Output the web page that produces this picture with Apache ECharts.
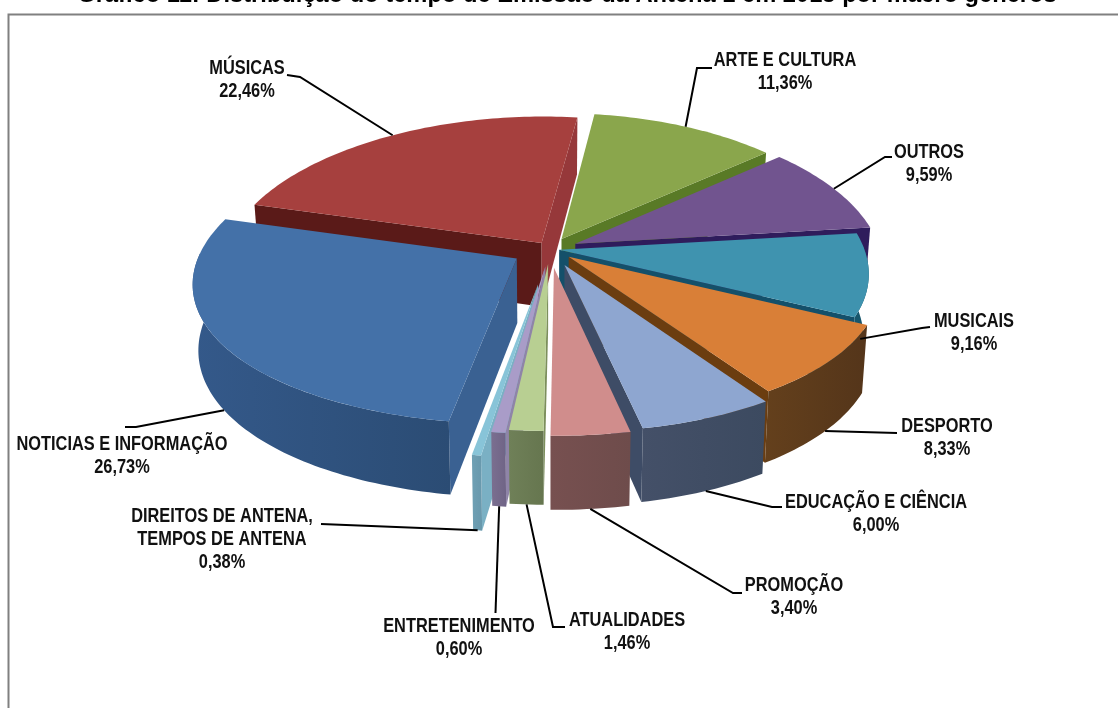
<!DOCTYPE html>
<html lang="pt">
<head>
<meta charset="utf-8">
<title>Distribuição do tempo de Emissão</title>
<script src="https://cdn.jsdelivr.net/npm/echarts@6/dist/echarts.min.js"></script>
<style>
  html, body { margin: 0; padding: 0; background: #fff; overflow: hidden; }
  #chart { width: 1118px; height: 708px; }
</style>
</head>
<body>
<div id="chart"></div>
<script>
// Macro-genre shares, clockwise from the top of the pie
const categories = ['ARTE E CULTURA', 'OUTROS', 'MUSICAIS', 'DESPORTO', 'EDUCAÇÃO E CIÊNCIA', 'PROMOÇÃO', 'ATUALIDADES', 'ENTRETENIMENTO', 'DIREITOS DE ANTENA,\nTEMPOS DE ANTENA', 'NOTICIAS E INFORMAÇÃO', 'MÚSICAS'];
const shares = [11.36, 9.59, 9.16, 8.33, 6.00, 3.40, 1.46, 0.60, 0.38, 26.73, 22.46];
const topColors = ['#8aa64c', '#71548f', '#3f93af', '#d97f37', '#8ea6d0', '#d08d8c', '#b8cf92', '#a99cc8', '#88c4d8', '#4471a8', '#a6403e'];
const rimColors = [['#5f7a2c', '#5f7a2c'], ['#3a2560', '#3a2560'], ['#17566c', '#17566c'], ['#64401c', '#54351a'], ['#445068', '#3c4a60'], ['#775050', '#6e4c4b'], ['#6f8058', '#66764f'], ['#7b6f90', '#6f6486'], ['#6fa0b4', '#6898ac'], ['#34598a', '#2b4c74'], ['#5a1a18', '#5a1a18']];
const wallStartColors = ['#597a26', '#2f1c5c', '#14506a', '#6b3d10', '#3e4c66', '#5e3a3a', '#7c8f5c', '#8f84a8', '#7ab0c4', '#3a6192', '#5a1a18'];
const wallEndColors = ['#597a26', '#2f1c5c', '#14506a', '#6b3d10', '#3e4c66', '#5e3a3a', '#7c8f5c', '#8f84a8', '#7ab0c4', '#3a6192', '#96383a'];
// How far each slice is pulled out of the pie, as a fraction of its radius
const explode = [0.08, 0.09, 0.03, 0.08, 0.12, 0.13, 0.104, 0.12, 0.244, 0.125, 0.05];
// Painter's order: far slices first
const drawOrder = [10, 0, 1, 2, 3, 4, 9, 8, 7, 5, 6];
// Label block centres
const labelPos = [[785, 72], [929, 164], [974, 333], [947, 438], [876, 514], [794, 597], [627, 632], [459, 638], [222, 540], [122, 456], [247, 80]];
// Leader route from the slice out to its label
const leaderRoute = [
  [[697, 68], [712, 68]],
  [[885, 157], [892, 157]],
  [[922, 328], [930, 327]],
  [[897, 433]],
  [[772, 507], [782, 507]],
  [[733, 593], [742, 593]],
  [[553, 627], [565, 627]],
  [[495.5, 613]],
  [[321, 524]],
  [[136, 427], [125, 427]],
  [[300, 77], [287, 75]]
];
// Where on the slice's rim the leader starts: fraction of the sweep, fraction of the wall height
const leaderStart = [[0.5, 0], [0.5, 0], [0.82, 0.55], [0.5, 1], [0.5, 1], [0.5, 1], [0.5, 1], [0.5, 1], [0.5, 1], [0.5, 1], [0.5, 0]];

const START_DEG = 7.5, A = 310, SKEW = 0.015, B = 143, KY = 0.12, KX = 0.16, CX = 550, CY = 249, DEPTH = 64, CONVERGE = 0.016;
const RIM_FROM = 88 * Math.PI / 180, RIM_TO = 272 * Math.PI / 180;
const total = shares.reduce((s, v) => s + v, 0);

// Tilted pie plane -> screen: t in radians clockwise from the back, r in radius units
function project(t, r, e, tm, z) {
  const u = r * Math.sin(t) + e * Math.sin(tm);
  const v = r * Math.cos(t) + e * Math.cos(tm);
  const wy = 1 + KY * v;
  const x = A * u * (1 - SKEW * u) / (1 + KX * v) * (1 - CONVERGE * z);
  const y = -B * v / wy + z * DEPTH / wy;
  return [CX + x, CY + y];
}
function arc(t0, t1, e, tm, z) {
  const pts = [];
  const n = Math.max(2, Math.ceil(Math.abs(t1 - t0) / 0.02));
  for (let i = 0; i <= n; i++) pts.push(project(t0 + (t1 - t0) * i / n, 1, e, tm, z));
  return pts;
}
const slices = [];
let acc = START_DEG * Math.PI / 180;
shares.forEach((v, i) => {
  const sweep = v / total * 2 * Math.PI;
  slices.push({ i, t0: acc, t1: acc + sweep, tm: acc + sweep / 2 });
  acc += sweep;
});

function poly(points, fill) {
  return { type: 'polygon', shape: { points }, style: { fill } };
}
// A radial wall shows when moving down from its top edge leaves the slice's top face
function wallVisible(apex, corner, inner) {
  const ax = corner[0] - apex[0], ay = corner[1] - apex[1];
  const crossDown = ax;
  const crossInner = ax * (inner[1] - apex[1]) - ay * (inner[0] - apex[0]);
  return crossDown * crossInner < 0;
}
function renderSlice(params) {
  const s = slices[drawOrder[params.dataIndex]];
  const i = s.i, e = explode[i];
  const topArc = arc(s.t0, s.t1, e, s.tm, 0);
  const apexTop = project(0, 0, e, s.tm, 0), apexLow = project(0, 0, e, s.tm, 1);
  const midTop = project(s.tm, 1, e, s.tm, 0);
  const children = [];
  [[s.t0, wallStartColors[i]], [s.t1, wallEndColors[i]]].forEach(([t, color]) => {
    const corner = project(t, 1, e, s.tm, 0);
    if (wallVisible(apexTop, corner, midTop)) {
      children.push(poly([apexTop, corner, project(t, 1, e, s.tm, 1), apexLow], color));
    }
  });
  // Only the part of the rim turned towards the viewer is drawn
  const from = Math.max(s.t0, RIM_FROM), to = Math.min(s.t1, RIM_TO);
  if (to > from) {
    const rimFill = new echarts.graphic.LinearGradient(0, 0, 1, 0, [
      { offset: 0, color: rimColors[i][0] }, { offset: 1, color: rimColors[i][1] }]);
    children.push(poly(arc(from, to, e, s.tm, 0).concat(arc(from, to, e, s.tm, 1).reverse()), rimFill));
  }
  children.push(poly([apexTop].concat(topArc), topColors[i]));
  return { type: 'group', children };
}
function renderLeader(params) {
  const i = params.dataIndex;
  const s = slices[i];
  const t = s.t0 + (s.t1 - s.t0) * leaderStart[i][0];
  const from = project(t, 1, explode[i], s.tm, leaderStart[i][1]);
  return {
    type: 'polyline',
    shape: { points: [from].concat(leaderRoute[i]) },
    style: { stroke: '#000', lineWidth: 2, fill: null }
  };
}
const labelText = (i) => categories[i] + '\n' + shares[i].toFixed(2).replace('.', ',') + '%';

const chart = echarts.init(document.getElementById('chart'), null, { renderer: 'canvas' });
chart.setOption({
  animation: false,
  backgroundColor: '#fff',
  graphic: [
    { type: 'rect', z: 1, silent: true, shape: { x: 8.5, y: 14.5, width: 1300, height: 900 }, style: { fill: 'none', stroke: '#808080', lineWidth: 2 } },
    { type: 'text', z: 10, silent: true, x: 567, y: -17,
      style: { text: 'Gráfico 11: Distribuição do tempo de Emissão da Antena 1 em 2015 por macro géneros',
        align: 'center', verticalAlign: 'top', fontFamily: '"Liberation Sans"', fontWeight: 'bold', fontSize: 23.7, fill: '#000' } }
  ].concat(categories.map((c, i) => ({
    type: 'text', x: labelPos[i][0], y: labelPos[i][1], z: 10, silent: true, scaleX: 0.84,
    style: {
      text: labelText(i), align: 'center', verticalAlign: 'middle',
      fontFamily: '"Liberation Sans"', fontWeight: 'bold', fontSize: 19.5, lineHeight: 23, fill: '#111'
    }
  }))),
  series: [
    { type: 'custom', coordinateSystem: 'none', renderItem: renderSlice, data: drawOrder, silent: true, z: 2 },
    { type: 'custom', coordinateSystem: 'none', renderItem: renderLeader, data: shares, silent: true, z: 3 }
  ]
});
</script>
</body>
</html>
